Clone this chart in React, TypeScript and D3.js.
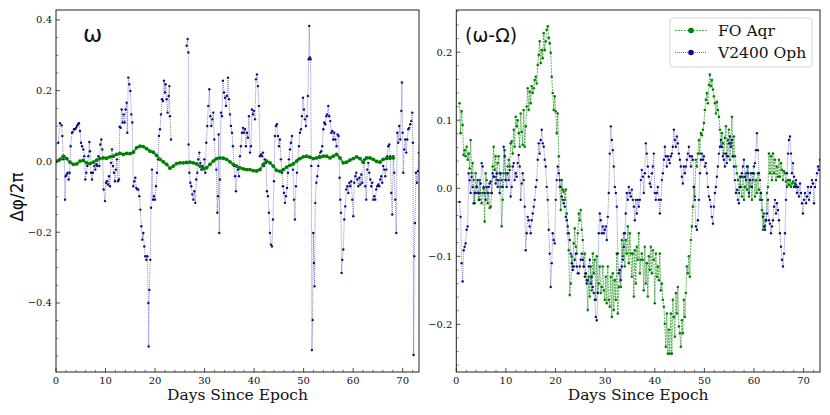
import * as d3 from 'd3';

// FO Aqr and V2400 Oph phase residuals, [day, Δφ/2π]
const omegaAqr: [number, number][] = [
  [0.13, 0.001], [0.81, 0.006], [1.48, 0.015], [2.15, 0.008], [2.83, -0.002], [3.5, -0.008], [4.17, -0.007], [4.85, 0.001],
  [5.52, 0.003], [6.19, -0.004], [6.86, -0.006], [7.54, -0.002], [8.21, 0.004], [8.88, 0.008], [9.56, 0.01], [10.23, 0.009],
  [10.9, 0.013], [11.57, 0.015], [12.25, 0.02], [12.92, 0.023], [13.59, 0.02], [14.27, 0.023], [14.94, 0.022], [15.61, 0.026],
  [16.29, 0.039], [16.96, 0.043], [17.63, 0.042], [18.3, 0.036], [18.98, 0.029], [19.65, 0.026], [20.32, 0.017], [21.0, 0.006],
  [21.67, -0.001], [22.34, -0.008], [23.01, -0.019], [23.69, -0.013], [24.36, -0.006], [25.03, -0.004], [25.71, -0.004], [26.38, -0.003],
  [27.05, -0.002], [27.73, -0.004], [28.4, -0.007], [29.07, -0.013], [29.74, -0.021], [30.42, -0.018], [31.09, -0.008], [31.76, 0.001],
  [32.44, 0.008], [33.11, 0.01], [33.78, 0.009], [34.45, 0.006], [35.13, -0.001], [35.8, -0.008], [36.47, -0.013], [37.15, -0.018],
  [37.82, -0.021], [38.49, -0.023], [39.17, -0.023], [39.84, -0.026], [40.51, -0.027], [41.18, -0.023], [41.86, -0.008], [42.53, 0.001],
  [43.2, -0.004], [43.88, -0.013], [44.55, -0.025], [45.22, -0.028], [45.9, -0.023], [46.57, -0.016], [47.24, -0.011], [47.91, -0.007],
  [48.59, 0.001], [49.26, 0.008], [49.93, 0.013], [50.61, 0.015], [51.28, 0.012], [51.95, 0.008], [52.62, 0.01], [53.3, 0.012],
  [53.97, 0.015], [54.64, 0.015], [55.32, 0.01], [55.99, 0.015], [56.66, 0.02], [57.34, 0.01], [58.01, -0.004], [58.68, -0.002],
  [59.35, 0.004], [60.03, 0.008], [60.7, 0.013], [61.37, 0.008], [62.05, -0.002], [62.72, 0.01], [63.39, 0.01], [64.06, 0.006],
  [64.74, 0.0], [65.41, -0.002], [66.08, 0.006], [66.76, 0.009], [67.43, 0.009], [68.1, 0.01],
];

const omegaOph: [number, number][] = [
  [0.47, 0.053], [0.81, 0.108], [1.14, 0.102], [1.28, 0.072], [1.48, 0.006], [1.68, 0.015], [1.82, -0.108], [1.95, -0.042],
  [2.15, -0.037], [2.36, -0.032], [2.56, -0.051], [2.76, -0.032], [2.96, 0.043], [3.23, 0.081], [3.36, 0.083], [3.63, 0.091],
  [3.84, 0.091], [4.04, 0.095], [4.24, 0.1], [4.44, 0.105], [4.64, 0.108], [4.85, 0.086], [5.05, 0.053], [5.25, 0.043],
  [5.52, 0.034], [5.72, 0.015], [5.92, -0.051], [6.12, -0.032], [6.33, -0.013], [6.53, 0.015], [6.73, 0.055], [6.86, 0.029],
  [7.07, -0.032], [7.27, -0.051], [7.47, -0.032], [7.74, -0.013], [7.94, -0.023], [8.14, -0.008], [8.34, -0.013], [8.55, 0.015],
  [8.75, -0.013], [8.95, 0.048], [9.15, 0.062], [9.35, 0.034], [9.62, -0.079], [9.89, -0.112], [10.09, -0.06], [10.3, -0.056],
  [10.5, -0.065], [10.7, -0.042], [10.9, -0.07], [11.1, -0.004], [11.31, 0.034], [11.51, -0.013], [11.71, -0.032], [11.91, -0.056],
  [12.11, -0.023], [12.31, 0.006], [12.52, -0.056], [12.72, -0.051], [12.85, 0.098], [13.06, 0.095], [13.26, 0.147], [13.46, 0.11],
  [13.66, 0.133], [13.86, 0.11], [14.06, 0.147], [14.27, 0.166], [14.4, 0.081], [14.6, 0.237], [14.8, 0.218], [15.01, 0.199],
  [15.21, 0.133], [15.41, 0.11], [15.61, -0.07], [15.81, -0.056], [16.02, -0.046], [16.22, -0.075], [16.42, -0.079], [16.62, -0.079],
  [16.82, -0.098], [17.03, -0.136], [17.23, -0.183], [17.43, -0.221], [17.63, -0.202], [17.83, -0.24], [18.03, -0.268], [18.24, -0.278],
  [18.44, -0.268], [18.64, -0.4], [18.71, -0.523], [18.84, -0.363], [19.04, -0.278], [19.18, -0.131], [19.38, -0.023], [19.58, -0.108],
  [19.78, -0.098], [19.99, -0.108], [20.19, -0.07], [20.39, -0.032], [20.59, 0.006], [20.79, 0.072], [21.0, 0.091], [21.2, 0.133],
  [21.4, 0.176], [21.6, 0.171], [21.8, 0.228], [22.01, 0.195], [22.14, 0.218], [22.34, 0.176], [22.54, 0.138], [22.75, 0.185],
  [22.88, 0.213], [23.01, 0.128], [23.22, 0.062],
  [26.38, 0.327], [26.58, 0.346], [26.72, 0.308], [26.78, 0.048], [26.92, -0.032], [27.12, -0.06], [27.32, -0.07], [27.52, -0.093],
  [27.73, -0.108], [27.93, -0.084], [28.13, -0.117], [28.33, -0.051], [28.53, -0.032], [28.73, 0.006], [28.94, 0.025], [29.14, -0.004],
  [29.34, -0.023], [29.54, -0.013], [29.74, -0.018], [29.95, 0.006], [30.15, -0.032], [30.35, 0.053], [30.55, 0.1], [30.75, 0.157],
  [30.96, 0.204], [31.16, 0.128], [31.36, 0.1], [31.56, 0.119], [31.76, 0.138], [31.96, 0.062], [32.17, 0.006], [32.37, -0.023],
  [32.57, -0.145], [32.71, -0.098], [32.84, 0.076], [32.97, -0.202], [33.11, -0.051], [33.31, 0.138], [33.51, 0.128], [33.71, 0.228],
  [33.92, 0.195], [34.12, 0.18], [34.32, 0.157], [34.52, 0.185], [34.72, 0.237], [34.93, 0.176], [35.13, 0.133], [35.33, 0.1],
  [35.53, 0.081], [35.73, 0.043], [35.94, -0.013], [36.14, -0.042], [36.34, -0.084], [36.54, -0.013], [36.74, -0.023], [36.94, -0.042],
  [37.15, 0.015], [37.35, 0.043], [37.55, 0.081], [37.75, 0.095], [37.95, 0.081], [38.16, 0.091], [38.36, 0.043], [38.56, 0.081],
  [38.76, 0.067], [38.96, 0.128], [39.17, 0.025], [39.37, 0.043], [39.57, 0.147], [39.77, 0.133], [39.97, 0.143], [40.17, 0.119],
  [40.38, 0.232], [40.58, 0.246], [40.78, 0.213], [40.98, 0.157], [41.18, 0.015], [41.39, 0.02], [41.59, 0.015], [41.79, 0.025],
  [41.99, -0.013], [42.19, 0.006], [42.4, -0.004], [42.6, -0.084], [42.8, -0.098], [43.0, -0.145], [43.2, -0.202], [43.41, -0.235],
  [43.61, -0.24], [43.81, -0.164], [44.01, -0.056], [44.21, 0.072], [44.41, 0.1], [44.62, 0.105], [44.82, 0.072], [45.02, 0.043],
  [45.22, 0.062], [45.42, 0.006], [45.63, -0.032], [45.83, -0.07], [46.03, -0.089], [46.23, -0.117], [46.43, -0.098], [46.64, -0.075],
  [46.84, -0.032], [47.04, 0.006], [47.24, 0.034], [47.44, 0.053], [47.64, 0.072], [47.85, -0.023], [48.05, -0.108], [48.25, -0.164],
  [48.45, -0.07], [48.65, -0.032], [48.86, 0.006], [49.06, 0.043], [49.26, 0.081], [49.46, 0.091], [49.66, 0.128], [49.87, 0.18],
  [50.07, 0.147], [50.27, 0.119], [50.47, 0.1], [50.67, 0.128], [50.87, 0.185], [51.01, 0.289], [51.14, 0.383], [51.28, 0.294],
  [51.41, 0.289], [51.55, -0.013], [51.68, -0.533], [51.82, -0.448], [51.95, -0.202], [52.09, -0.287], [52.22, -0.353], [52.36, -0.117],
  [52.56, -0.06], [52.76, -0.042], [52.96, -0.013], [53.16, 0.015], [53.36, 0.025], [53.57, 0.029], [53.77, 0.043], [53.97, 0.091],
  [54.17, 0.11], [54.37, 0.105], [54.58, 0.128], [54.78, 0.133], [54.98, 0.157], [55.18, 0.128], [55.38, 0.114], [55.59, 0.081],
  [55.79, 0.086], [55.99, 0.062], [56.19, 0.081], [56.39, 0.062], [56.66, 0.043], [56.86, 0.076], [57.07, 0.072], [57.27, -0.046],
  [57.4, -0.108], [57.54, -0.145], [57.67, -0.315], [57.81, -0.278], [58.01, -0.249], [58.21, -0.164], [58.41, -0.127], [58.61, -0.079],
  [58.82, -0.07], [59.02, -0.089], [59.22, -0.06], [59.42, -0.07], [59.62, -0.056], [59.83, -0.108], [60.03, -0.155], [60.23, -0.06],
  [60.43, -0.042], [60.63, -0.032], [60.83, -0.051], [61.04, -0.07], [61.24, -0.046], [61.44, -0.065], [61.64, -0.037], [61.84, -0.06],
  [62.05, -0.004], [62.25, 0.006], [62.45, -0.07], [62.65, -0.108], [62.85, -0.023], [63.06, -0.004], [63.26, -0.032], [63.46, -0.051],
  [63.66, -0.07], [63.86, -0.06], [64.06, -0.108], [64.27, -0.098], [64.47, -0.108], [64.67, -0.079], [64.87, -0.07], [65.07, -0.065],
  [65.28, -0.07], [65.48, -0.051], [65.68, -0.042], [65.88, -0.06], [66.08, -0.013], [66.29, -0.023], [66.49, -0.042], [66.69, -0.023],
  [66.89, 0.015], [67.09, 0.043], [67.3, 0.048], [67.5, 0.015], [67.7, -0.089], [67.9, -0.15], [68.1, 0.015], [68.3, -0.032],
  [68.51, -0.108], [68.71, -0.202], [68.91, 0.081], [69.11, 0.053], [69.31, 0.1], [69.52, 0.062], [69.72, 0.143], [69.85, 0.223],
  [69.99, 0.081], [70.12, -0.032], [70.32, 0.034], [70.52, 0.062], [70.73, 0.025], [70.93, 0.062], [71.13, 0.091], [71.33, 0.095],
  [71.53, 0.105], [71.74, 0.114], [71.94, 0.138], [72.07, 0.053], [72.21, -0.547], [72.34, -0.268], [72.48, -0.174], [72.68, -0.032],
  [72.88, -0.06], [73.08, -0.027], [73.28, 0.025],
];

const diffAqr: [number, number][] = [
  [0.67, 0.125], [0.87, 0.081], [1.08, 0.113], [1.28, 0.093], [1.48, 0.049], [1.68, 0.056], [1.88, 0.047], [2.08, 0.061],
  [2.29, 0.042], [2.49, 0.051], [2.69, 0.029], [2.89, 0.071], [3.09, 0.022], [3.3, 0.037], [3.5, 0.012], [3.7, -0.022],
  [3.9, 0.022], [4.1, 0.002], [4.3, -0.007], [4.51, -0.017], [4.71, 0.012], [4.91, -0.007], [5.11, -0.022], [5.31, -0.007],
  [5.51, 0.0], [5.72, -0.049], [5.92, 0.022], [6.12, 0.012], [6.32, -0.022], [6.52, -0.007], [6.72, -0.029], [6.93, -0.027],
  [7.13, -0.007], [7.33, 0.032], [7.53, 0.061], [7.73, 0.027], [7.94, 0.047], [8.14, 0.012], [8.34, 0.037], [8.54, 0.047],
  [8.74, 0.022], [8.94, 0.002], [9.15, -0.056], [9.35, -0.017], [9.55, 0.022], [9.75, 0.056], [9.95, 0.012], [10.15, 0.022],
  [10.36, 0.032], [10.56, 0.042], [10.76, 0.032], [10.96, 0.066], [11.16, 0.069], [11.37, 0.051], [11.57, 0.086], [11.77, 0.061],
  [11.97, 0.105], [12.17, 0.091], [12.37, 0.1], [12.58, 0.081], [12.78, 0.061], [12.98, 0.11], [13.18, 0.083], [13.38, 0.064],
  [13.58, 0.115], [13.79, 0.061], [13.99, 0.091], [14.19, 0.12], [14.39, 0.147], [14.59, 0.115], [14.79, 0.142], [15.0, 0.125],
  [15.2, 0.15], [15.4, 0.14], [15.6, 0.147], [15.8, 0.159], [16.01, 0.164], [16.21, 0.154], [16.41, 0.181], [16.61, 0.196],
  [16.81, 0.216], [17.01, 0.184], [17.22, 0.203], [17.42, 0.191], [17.62, 0.228], [17.82, 0.203], [18.02, 0.216], [18.22, 0.233],
  [18.43, 0.238], [18.63, 0.221], [18.83, 0.213], [19.03, 0.199], [19.23, 0.164], [19.43, 0.14], [19.64, 0.115], [19.84, 0.135],
  [20.04, 0.113], [20.24, 0.081], [20.44, 0.11], [20.65, 0.047], [20.85, 0.002], [21.05, -0.032], [21.25, 0.012], [21.45, -0.002],
  [21.65, -0.005], [21.86, -0.017], [22.06, -0.002], [22.26, -0.037], [22.46, -0.066], [22.66, -0.091], [22.86, -0.157], [23.07, -0.14],
  [23.27, -0.1], [23.47, -0.115], [23.67, -0.081], [23.87, -0.059], [24.08, -0.086], [24.28, -0.096], [24.48, -0.066], [24.68, -0.037],
  [24.88, -0.047], [25.08, -0.032], [25.29, -0.061], [25.49, -0.076], [25.69, -0.115], [25.89, -0.096], [26.09, -0.125], [26.29, -0.135],
  [26.5, -0.179], [26.7, -0.13], [26.9, -0.159], [27.1, -0.115], [27.3, -0.15], [27.51, -0.096], [27.71, -0.125], [27.91, -0.105],
  [28.11, -0.164], [28.31, -0.1], [28.51, -0.154], [28.72, -0.14], [28.92, -0.115], [29.12, -0.154], [29.32, -0.145], [29.52, -0.115],
  [29.72, -0.15], [29.93, -0.164], [30.13, -0.13], [30.33, -0.169], [30.53, -0.115], [30.73, -0.164], [30.93, -0.174], [31.14, -0.13],
  [31.34, -0.189], [31.54, -0.125], [31.74, -0.179], [31.94, -0.135], [32.15, -0.164], [32.35, -0.096], [32.55, -0.184], [32.75, -0.145],
  [32.95, -0.12], [33.15, -0.145], [33.36, -0.076], [33.56, -0.1], [33.76, -0.066], [33.96, -0.115], [34.16, -0.076], [34.36, -0.096],
  [34.57, -0.056], [34.77, -0.11], [34.97, -0.066], [35.17, -0.096], [35.37, -0.13], [35.57, -0.096], [35.78, -0.159], [35.98, -0.091],
  [36.18, -0.14], [36.38, -0.086], [36.58, -0.105], [36.79, -0.066], [36.99, -0.125], [37.19, -0.105], [37.39, -0.096], [37.59, -0.105],
  [37.79, -0.15], [38.0, -0.086], [38.2, -0.14], [38.4, -0.11], [38.6, -0.159], [38.8, -0.1], [39.0, -0.12], [39.21, -0.086],
  [39.41, -0.125], [39.61, -0.091], [39.81, -0.105], [40.01, -0.169], [40.22, -0.096], [40.42, -0.13], [40.62, -0.115], [40.82, -0.135],
  [41.02, -0.096], [41.22, -0.15], [41.43, -0.14], [41.63, -0.164], [41.83, -0.174], [42.03, -0.199], [42.23, -0.233], [42.43, -0.184],
  [42.64, -0.243], [42.84, -0.208], [43.04, -0.243], [43.24, -0.184], [43.44, -0.243], [43.64, -0.164], [43.85, -0.189], [44.05, -0.218],
  [44.25, -0.154], [44.45, -0.184], [44.65, -0.145], [44.86, -0.203], [45.06, -0.213], [45.26, -0.233], [45.46, -0.194], [45.66, -0.213],
  [45.86, -0.164], [46.07, -0.189], [46.27, -0.154], [46.47, -0.115], [46.67, -0.125], [46.87, -0.1], [47.07, -0.13], [47.28, -0.076],
  [47.48, -0.056], [47.68, -0.027], [47.88, 0.002], [48.08, -0.012], [48.28, 0.042], [48.49, 0.032], [48.69, 0.051], [48.89, 0.071],
  [49.09, 0.051], [49.29, 0.081], [49.5, 0.078], [49.7, 0.086], [49.9, 0.096], [50.1, 0.115], [50.3, 0.13], [50.5, 0.14],
  [50.71, 0.125], [50.91, 0.152], [51.11, 0.167], [51.31, 0.15], [51.51, 0.159], [51.72, 0.145], [51.92, 0.135], [52.12, 0.125],
  [52.32, 0.11], [52.52, 0.127], [52.72, 0.115], [52.93, 0.105], [53.13, 0.086], [53.33, 0.061], [53.53, 0.081], [53.73, 0.066],
  [53.93, 0.051], [54.14, 0.074], [54.34, 0.091], [54.54, 0.047], [54.74, 0.071], [54.94, 0.086], [55.15, 0.042], [55.35, 0.066],
  [55.55, 0.105], [55.75, 0.047], [55.95, 0.076], [56.15, 0.047], [56.36, 0.032], [56.56, 0.022], [56.76, 0.012], [56.96, -0.007],
  [57.16, 0.017], [57.36, 0.002], [57.57, -0.012], [57.77, 0.017], [57.97, -0.017], [58.17, 0.002], [58.37, 0.022], [58.57, -0.002],
  [58.78, 0.032], [58.98, -0.012], [59.18, 0.012], [59.38, 0.002], [59.58, -0.017], [59.78, 0.012], [59.99, 0.022], [60.19, -0.012],
  [60.39, 0.012], [60.59, -0.007], [60.79, 0.022], [61.0, -0.002], [61.2, -0.017], [61.4, -0.007], [61.6, -0.032], [61.8, -0.061],
  [62.0, -0.037], [62.21, -0.056], [62.41, -0.047], [62.61, -0.007], [62.81, 0.002], [63.01, 0.051], [63.21, 0.022], [63.42, 0.047],
  [63.62, 0.012], [63.82, 0.051], [64.02, 0.022], [64.22, 0.042], [64.43, 0.012], [64.63, 0.032], [64.83, 0.017], [65.03, 0.042],
  [65.23, 0.017], [65.43, 0.037], [65.64, 0.027], [65.84, 0.012], [66.04, 0.025], [66.24, 0.022], [66.44, 0.01], [66.64, 0.002],
  [66.85, 0.012], [67.05, 0.005], [67.25, 0.012], [67.45, 0.002], [67.65, 0.007], [67.86, 0.01], [68.06, 0.002], [68.26, 0.007],
  [68.46, 0.005], [68.66, 0.002],
];

const diffOph: [number, number][] = [
  [0.67, -0.02], [0.87, -0.042], [1.08, -0.11], [1.28, -0.137], [1.48, -0.091], [1.68, -0.086], [1.88, -0.081], [2.08, -0.061],
  [2.29, -0.056], [2.49, 0.022], [2.69, 0.012], [2.89, -0.007], [3.09, 0.017], [3.3, 0.002], [3.5, -0.022], [3.7, -0.007],
  [3.9, -0.007], [4.1, 0.002], [4.3, 0.012], [4.51, -0.007], [4.71, -0.017], [4.91, 0.007], [5.11, 0.037], [5.31, 0.032],
  [5.51, 0.002], [5.72, -0.007], [5.92, -0.017], [6.12, 0.002], [6.32, -0.007], [6.52, 0.002], [6.72, 0.007], [6.93, 0.01],
  [7.13, -0.007], [7.33, 0.022], [7.53, 0.017], [7.73, 0.017], [7.94, 0.007], [8.14, 0.022], [8.34, 0.002], [8.54, 0.012],
  [8.74, -0.007], [8.94, 0.022], [9.15, 0.012], [9.35, 0.002], [9.55, 0.061], [9.75, 0.047], [9.95, 0.012], [10.15, 0.002],
  [10.36, 0.022], [10.56, 0.012], [10.76, 0.027], [10.96, -0.012], [11.16, 0.002], [11.37, 0.032], [11.57, 0.037], [11.77, 0.012],
  [11.97, 0.022], [12.17, 0.017], [12.37, 0.037], [12.58, 0.049], [12.78, 0.032], [12.98, -0.017], [13.18, 0.007], [13.38, 0.022],
  [13.58, 0.012], [13.79, -0.027], [13.99, -0.091], [14.19, -0.066], [14.39, -0.042], [14.59, -0.047], [14.79, -0.056], [15.0, -0.066],
  [15.2, -0.047], [15.4, -0.037], [15.6, -0.027], [15.8, -0.017], [16.01, 0.002], [16.21, 0.012], [16.41, 0.042], [16.61, 0.066],
  [16.81, 0.051], [17.01, 0.071], [17.22, 0.086], [17.42, 0.066], [17.62, 0.061], [17.82, 0.042], [18.02, 0.032], [18.22, 0.002],
  [18.43, -0.017], [18.63, -0.061], [18.83, -0.096], [19.03, -0.145], [19.23, -0.11], [19.43, -0.066], [19.64, -0.076], [19.84, -0.081],
  [20.04, -0.017], [20.24, 0.012], [20.44, 0.032], [20.65, 0.022], [20.85, 0.012], [21.05, 0.002], [21.25, -0.012], [21.45, -0.017],
  [21.65, -0.022], [21.86, -0.027], [22.06, -0.042], [22.26, -0.047], [22.46, -0.056], [22.66, -0.066], [22.86, -0.076], [23.07, -0.096],
  [23.27, -0.11], [23.47, -0.12], [23.67, -0.115], [23.87, -0.105], [24.08, -0.096], [24.28, -0.115], [24.48, -0.125], [24.68, -0.125],
  [24.88, -0.115], [25.08, -0.105], [25.29, -0.096], [25.49, -0.105], [25.69, -0.115], [25.89, -0.13], [26.09, -0.125], [26.29, -0.14],
  [26.5, -0.135], [26.7, -0.115], [26.9, -0.105], [27.1, -0.14], [27.3, -0.13], [27.51, -0.145], [27.71, -0.154], [27.91, -0.164],
  [28.11, -0.189], [28.31, -0.194], [28.51, -0.154], [28.72, -0.066], [28.92, -0.037], [29.12, -0.047], [29.32, -0.066], [29.52, -0.056],
  [29.72, -0.066], [29.93, -0.061], [30.13, -0.056], [30.33, -0.076], [30.53, -0.042], [30.73, -0.007], [30.93, 0.051], [31.14, 0.091],
  [31.34, 0.071], [31.54, 0.056], [31.74, 0.032], [31.94, 0.002], [32.15, -0.007], [32.35, -0.027], [32.55, -0.096], [32.75, -0.125],
  [32.95, -0.12], [33.15, -0.135], [33.36, -0.115], [33.56, -0.105], [33.76, -0.086], [33.96, -0.066], [34.16, -0.037], [34.36, -0.007],
  [34.57, -0.017], [34.77, 0.002], [34.97, -0.007], [35.17, -0.012], [35.37, -0.002], [35.57, -0.017], [35.78, -0.027], [35.98, -0.047],
  [36.18, -0.017], [36.38, -0.037], [36.58, -0.017], [36.79, -0.027], [36.99, -0.017], [37.19, 0.012], [37.39, 0.027], [37.59, 0.017],
  [37.79, -0.007], [38.0, 0.022], [38.2, 0.066], [38.4, 0.051], [38.6, 0.032], [38.8, 0.017], [39.0, 0.007], [39.21, 0.002],
  [39.41, 0.022], [39.61, 0.032], [39.81, 0.051], [40.01, -0.007], [40.22, -0.017], [40.42, -0.007], [40.62, 0.002], [40.82, -0.017],
  [41.02, -0.037], [41.22, -0.017], [41.43, 0.012], [41.63, 0.022], [41.83, 0.042], [42.03, 0.061], [42.23, 0.047], [42.43, 0.032],
  [42.64, 0.047], [42.84, 0.042], [43.04, 0.037], [43.24, 0.047], [43.44, 0.051], [43.64, 0.061], [43.85, 0.086], [44.05, 0.071],
  [44.25, 0.061], [44.45, 0.076], [44.65, 0.066], [44.86, 0.051], [45.06, 0.042], [45.26, 0.032], [45.46, 0.017], [45.66, 0.007],
  [45.86, 0.032], [46.07, 0.022], [46.27, 0.032], [46.47, 0.042], [46.67, 0.051], [46.87, 0.061], [47.07, 0.047], [47.28, 0.032],
  [47.48, 0.047], [47.68, 0.042], [47.88, 0.002], [48.08, -0.017], [48.28, -0.056], [48.49, -0.061], [48.69, -0.047], [48.89, -0.017],
  [49.09, 0.022], [49.29, 0.042], [49.5, 0.051], [49.7, 0.042], [49.9, 0.047], [50.1, 0.032], [50.3, 0.037], [50.5, 0.022],
  [50.71, 0.002], [50.91, -0.012], [51.11, -0.017], [51.31, -0.027], [51.51, -0.042], [51.72, -0.052], [51.92, -0.027], [52.12, -0.007],
  [52.32, 0.002], [52.52, 0.017], [52.72, 0.032], [52.93, 0.051], [53.13, 0.061], [53.33, 0.071], [53.53, 0.061], [53.73, 0.047],
  [53.93, 0.042], [54.14, 0.032], [54.34, 0.051], [54.54, 0.037], [54.74, 0.047], [54.94, 0.066], [55.15, 0.076], [55.35, 0.061],
  [55.55, 0.071], [55.75, 0.047], [55.95, 0.032], [56.15, 0.012], [56.36, -0.007], [56.56, -0.002], [56.76, -0.017], [56.96, -0.022],
  [57.16, 0.002], [57.36, 0.017], [57.57, 0.022], [57.77, 0.032], [57.97, 0.042], [58.17, 0.017], [58.37, 0.012], [58.57, 0.032],
  [58.78, 0.022], [58.98, -0.007], [59.18, 0.012], [59.38, 0.022], [59.58, 0.002], [59.78, 0.022], [59.99, 0.032], [60.19, 0.037],
  [60.39, 0.056], [60.59, 0.081], [60.79, 0.056], [61.0, 0.022], [61.2, 0.012], [61.4, -0.007], [61.6, -0.017], [61.8, -0.042],
  [62.0, -0.056], [62.21, -0.061], [62.41, -0.047], [62.61, -0.037], [62.81, -0.017], [63.01, -0.047], [63.21, -0.052], [63.42, -0.066],
  [63.62, -0.056], [63.82, -0.047], [64.02, -0.027], [64.22, -0.017], [64.43, -0.037], [64.63, -0.022], [64.83, -0.032], [65.03, -0.047],
  [65.23, -0.066], [65.43, -0.086], [65.64, -0.105], [65.84, -0.115], [66.04, -0.096], [66.24, -0.066], [66.44, -0.017], [66.64, 0.022],
  [66.85, 0.051], [67.05, 0.071], [67.25, 0.076], [67.45, 0.051], [67.65, 0.022], [67.86, 0.037], [68.06, 0.017], [68.26, 0.002],
  [68.46, 0.012], [68.66, -0.007], [68.86, 0.002], [69.07, -0.012], [69.27, 0.007], [69.47, -0.007], [69.67, -0.022], [69.87, -0.037],
  [70.07, -0.017], [70.28, -0.007], [70.48, -0.022], [70.68, -0.012], [70.88, 0.002], [71.08, -0.017], [71.28, -0.007], [71.49, 0.002],
  [71.69, 0.012], [71.89, 0.007], [72.09, -0.022], [72.29, 0.002], [72.5, 0.012], [72.7, 0.022], [72.9, 0.032], [73.1, 0.027],
  [73.3, 0.042],
];

const seriesNames = ['FO Aqr', 'V2400 Oph'];
const xTicks = [0, 10, 20, 30, 40, 50, 60, 70];
const leftYTicks = [-0.4, -0.2, 0.0, 0.2, 0.4];
const rightYTicks = [-0.2, -0.1, 0.0, 0.1, 0.2];

const GREEN = '#008000';
const NAVY = '#0b0b86';
const SERIF = 'DejaVu Serif, serif';
const SANS = 'DejaVu Sans, sans-serif';

interface PanelProps {
  id: string;
  left: number;
  right: number;
  top: number;
  bottom: number;
  yDomain: [number, number];
  yTicks: number[];
  yMinorStep: number;
  aqr: [number, number][];
  oph: [number, number][];
  aqrR: number;
  aqrWidth: number;
  aqrOnTop?: boolean;
  label: string;
  labelX: number;
  labelSize: number;
  ylabel?: string;
  legend?: boolean;
}

function fmt(v: number) {
  const s = Math.abs(v).toFixed(1);
  return v < -1e-9 ? '\u2212' + s : s;
}

// split the series wherever the observations have a gap of more than a day
function segments(data: [number, number][]) {
  const out: [number, number][][] = [];
  let cur: [number, number][] = [];
  data.forEach((d, i) => {
    if (i > 0 && d[0] - data[i - 1][0] > 1) {
      out.push(cur);
      cur = [];
    }
    cur.push(d);
  });
  out.push(cur);
  return out;
}

function Panel(p: PanelProps) {
  const x = d3.scaleLinear().domain([0, 73.3]).range([p.left, p.right]);
  const y = d3.scaleLinear().domain(p.yDomain).range([p.bottom, p.top]);

  const line = d3.line<[number, number]>()
    .x(d => x(d[0]))
    .y(d => y(d[1]));

  const xMinor = d3.range(0, 74, 2).filter(v => v % 10 !== 0);
  const nMinor = Math.ceil(p.yDomain[0] / p.yMinorStep);
  const yMinor: number[] = [];
  for (let k = nMinor; k * p.yMinorStep <= p.yDomain[1]; k++) {
    const v = +(k * p.yMinorStep).toFixed(4);
    if (!p.yTicks.some(t => Math.abs(t - v) < 1e-6)) yMinor.push(v);
  }

  const clipId = `clip-${p.id}`;
  const cx = (p.left + p.right) / 2;

  const aqrMarks = (
    <g key="aqr">
      {segments(p.aqr).map((s, k) => (
        <path key={k} d={line(s) || ''} fill="none" stroke={GREEN} strokeWidth={p.aqrWidth}
          strokeDasharray={p.aqrWidth > 1 ? undefined : '2,1'} strokeOpacity={0.75} />
      ))}
      {p.aqr.map((d, i) => (
        <circle key={`a${i}`} cx={x(d[0])} cy={y(d[1])} r={p.aqrR} fill={GREEN} />
      ))}
    </g>
  );
  const ophMarks = (
    <g key="oph">
      {segments(p.oph).map((s, k) => (
        <path key={k} d={line(s) || ''} fill="none" stroke={NAVY} strokeWidth={0.8}
          strokeDasharray="1,1" strokeOpacity={0.6} />
      ))}
      {p.oph.map((d, i) => (
        <circle key={`o${i}`} cx={x(d[0])} cy={y(d[1])} r={1.2} fill={NAVY} />
      ))}
    </g>
  );

  return (
    <g>
      <defs>
        <clipPath id={clipId}>
          <rect x={p.left} y={p.top} width={p.right - p.left} height={p.bottom - p.top} />
        </clipPath>
      </defs>

      <g clipPath={`url(#${clipId})`}>
        {p.aqrOnTop ? [ophMarks, aqrMarks] : [aqrMarks, ophMarks]}
      </g>

      {/* frame */}
      <rect x={p.left} y={p.top} width={p.right - p.left} height={p.bottom - p.top}
        fill="none" stroke="#222" strokeWidth={1} />

      {/* x ticks */}
      {xTicks.map(t => (
        <g key={`xt${t}`}>
          <line x1={x(t)} x2={x(t)} y1={p.bottom} y2={p.bottom - 4} stroke="#222" strokeWidth={0.8} />
          <text x={x(t)} y={p.bottom + 11.5} textAnchor="middle" fontFamily={SERIF} fontSize={10} fill="#111">{t}</text>
        </g>
      ))}
      {xMinor.map(t => (
        <line key={`xm${t}`} x1={x(t)} x2={x(t)} y1={p.bottom} y2={p.bottom - 2.2} stroke="#222" strokeWidth={0.6} />
      ))}

      {/* y ticks */}
      {p.yTicks.map(t => (
        <g key={`yt${t}`}>
          <line x1={p.left} x2={p.left + 4} y1={y(t)} y2={y(t)} stroke="#222" strokeWidth={0.8} />
          <text x={p.left - 4} y={y(t) + 3.5} textAnchor="end" fontFamily={SERIF} fontSize={10} fill="#111">{fmt(t)}</text>
        </g>
      ))}
      {yMinor.map(t => (
        <line key={`ym${t}`} x1={p.left} x2={p.left + 2.2} y1={y(t)} y2={y(t)} stroke="#222" strokeWidth={0.6} />
      ))}

      {/* axis labels */}
      <text x={cx} y={400} textAnchor="middle" fontFamily={SERIF} fontSize={15.5} fill="#111">Days Since Epoch</text>
      {p.ylabel && (
        <text transform={`translate(23,${(p.top + p.bottom) / 2 + 6}) rotate(-90)`} textAnchor="middle"
          fontFamily={SANS} fontSize={17} fill="#111">{p.ylabel}</text>
      )}

      {/* panel label */}
      <text x={p.labelX} y={p.top + 32} fontFamily={SANS} fontSize={p.labelSize} fill="#111">{p.label}</text>

      {p.legend && (
        <g>
          <rect x={670} y={18} width={142} height={49} rx={3} fill="white" fillOpacity={0.85} stroke="#d0d0d0" strokeWidth={0.9} />
          {seriesNames.map((name, i) => {
            const ly = 30.5 + i * 22;
            const col = i === 0 ? GREEN : NAVY;
            return (
              <g key={name}>
                <line x1={675} x2={707} y1={ly} y2={ly} stroke={col} strokeWidth={0.9}
                  strokeDasharray={i === 0 ? '2,1' : '1,1'} strokeOpacity={0.7} />
                <circle cx={691} cy={ly} r={2.8} fill={col} />
                <text x={718} y={ly + 5.5} fontFamily={SERIF} fontSize={15.5} fill="#111">{name}</text>
              </g>
            );
          })}
        </g>
      )}
    </g>
  );
}

export default function App() {
  return (
    <svg width={830} height={415} viewBox="0 0 830 415"
      style={{ position: 'absolute', left: 0, top: 0, background: 'white' }}>
      <rect x={0} y={0} width={830} height={415} fill="white" />
      <Panel id="l" left={56} right={419} top={10} bottom={372}
        yDomain={[-0.595, 0.428]} yTicks={leftYTicks} yMinorStep={0.05}
        aqr={omegaAqr} oph={omegaOph} aqrR={1.9} aqrWidth={2.2} aqrOnTop
        label={'\u03c9'} labelX={83} labelSize={23} ylabel={'\u0394\u03c6/2\u03c0'} />
      <Panel id="r" left={456.3} right={820} top={10} bottom={372}
        yDomain={[-0.270, 0.262]} yTicks={rightYTicks} yMinorStep={0.02}
        aqr={diffAqr} oph={diffOph} aqrR={1.3} aqrWidth={0.8}
        label={'(\u03c9-\u03a9)'} labelX={465} labelSize={19} legend />
    </svg>
  );
}
